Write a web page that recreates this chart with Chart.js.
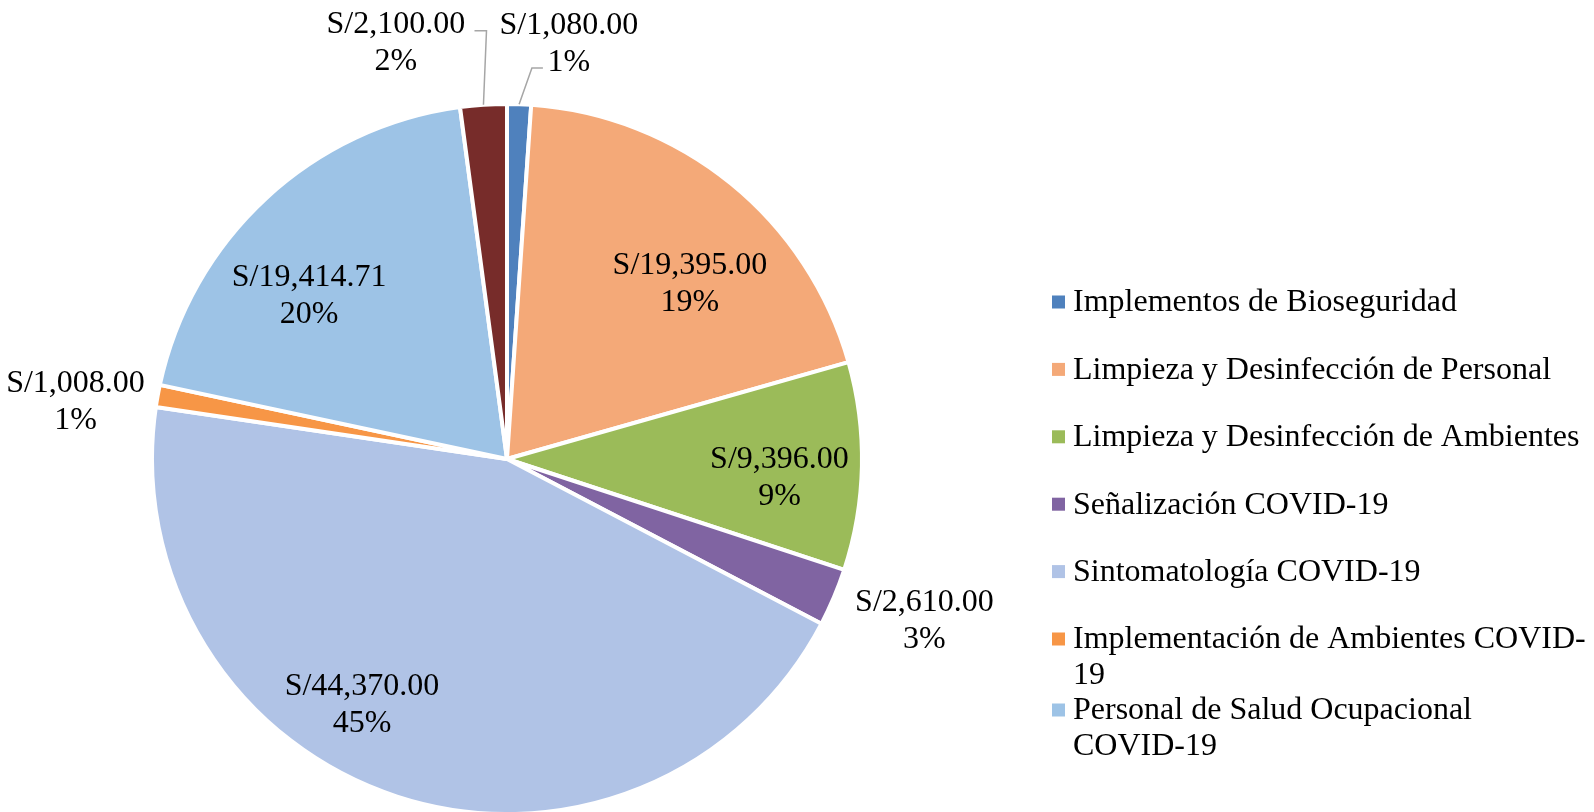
<!DOCTYPE html>
<html><head><meta charset="utf-8">
<script src="https://cdn.jsdelivr.net/npm/chart.js@4.4.1/dist/chart.umd.min.js"></script>
<style>html,body{margin:0;padding:0;background:#fff;overflow:hidden}</style>
</head><body>
<canvas id="c" width="1594" height="812"></canvas>
<script>
// ---- data ----
const categories = [
  'Implementos de Bioseguridad',
  'Limpieza y Desinfección de Personal',
  'Limpieza y Desinfección de Ambientes',
  'Señalización COVID-19',
  'Sintomatología COVID-19',
  'Implementación de Ambientes COVID-19',
  'Personal de Salud Ocupacional COVID-19',
  'Otros'
];
const amounts = [1080.00, 19395.00, 9396.00, 2610.00, 44370.00, 1008.00, 19414.71, 2100.00];
const percentLabels = ['1%', '19%', '9%', '3%', '45%', '1%', '20%', '2%'];
const legendCount = 7; // the reference legend shows only the first seven entries

// ---- style ----
const sliceColors = ['#4F81BD', '#F4A978', '#9BBB59', '#8064A2', '#B0C3E6', '#F79646', '#9DC3E6', '#772C2A'];
const FONT = '"Liberation Serif", "Times New Roman", serif';
const FONT_SIZE = 32;
const TEXT_DY = 2; // canvas 'middle' sits slightly above the cap centre
// [angle offset from slice middle (deg), distance as fraction of outer radius]
const labelPlacement = [[6.5, 1.186], [6.9, 0.717], [2.4, 0.769], [-2.0, 1.259], [12.7, 0.799], [-2.4, 1.227], [-7.4, 0.726], [-11.1, 1.218]];
// leader lines: end point relative to label centre, horizontal run towards pie
const leaders = {0: {dx: -26, dy: 25.5, run: -11}, 7: {dx: 78.7, dy: -10.5, run: 12}};
const legendStyle = {x: 1052, textX: 1073, y0: 301, spacing: 67.4, lineH: 35.5, box: 13, maxWidth: 516};

const fmt = v => 'S/' + v.toLocaleString('en-US', {minimumFractionDigits: 2, maximumFractionDigits: 2});

const labelPlugin = {
  id: 'sliceLabels',
  afterDatasetsDraw(chart) {
    const ctx = chart.ctx;
    const meta = chart.getDatasetMeta(0);
    ctx.save();
    ctx.font = FONT_SIZE + 'px ' + FONT;
    ctx.fillStyle = '#000';
    ctx.textAlign = 'center';
    ctx.textBaseline = 'middle';
    meta.data.forEach((arc, i) => {
      const p = arc.getProps(['x', 'y', 'startAngle', 'endAngle', 'outerRadius'], true);
      const mid = (p.startAngle + p.endAngle) / 2;
      const [off, f] = labelPlacement[i];
      const a = mid + off * Math.PI / 180;
      const cx = p.x + Math.cos(a) * p.outerRadius * f;
      const cy = p.y + Math.sin(a) * p.outerRadius * f;
      ctx.fillStyle = '#000';
      ctx.fillText(fmt(amounts[i]), cx, cy - 18.5 + TEXT_DY);
      ctx.fillText(percentLabels[i], cx, cy + 18.5 + TEXT_DY);
      const L = leaders[i];
      if (L) {
        const sx = p.x + Math.cos(mid) * p.outerRadius;
        const sy = p.y + Math.sin(mid) * p.outerRadius;
        const ex = cx + L.dx, ey = cy + L.dy;
        ctx.beginPath();
        ctx.strokeStyle = '#A6A6A6';
        ctx.lineWidth = 1.5;
        ctx.moveTo(sx, sy);
        ctx.lineTo(ex + L.run, ey);
        ctx.lineTo(ex, ey);
        ctx.stroke();
      }
    });
    ctx.restore();
  }
};

function wrap(ctx, text, maxW) {
  const tokens = text.match(/[^\s-]+-?|\s+/g);
  const lines = [];
  let cur = '';
  tokens.forEach(t => {
    const test = cur + t;
    if (cur.trim() && ctx.measureText(test.trimEnd()).width > maxW) {
      lines.push(cur.trimEnd());
      cur = t.trimStart();
    } else cur = test;
  });
  if (cur.trim()) lines.push(cur.trimEnd());
  return lines;
}

const legendPlugin = {
  id: 'sideLegend',
  afterDraw(chart) {
    const ctx = chart.ctx;
    const colors = chart.data.datasets[0].backgroundColor;
    ctx.save();
    ctx.font = FONT_SIZE + 'px ' + FONT;
    ctx.textAlign = 'left';
    ctx.textBaseline = 'middle';
    let y = legendStyle.y0;
    for (let i = 0; i < legendCount; i++) {
      const lines = wrap(ctx, chart.data.labels[i], legendStyle.maxWidth);
      ctx.fillStyle = colors[i];
      ctx.fillRect(legendStyle.x, y + 1 - legendStyle.box / 2, legendStyle.box, legendStyle.box);
      ctx.fillStyle = '#000';
      lines.forEach((ln, k) => ctx.fillText(ln, legendStyle.textX, y + k * legendStyle.lineH + TEXT_DY));
      const last = y + (lines.length - 1) * legendStyle.lineH;
      y = Math.max(y + legendStyle.spacing, last + legendStyle.lineH);
    }
    ctx.restore();
  }
};

new Chart(document.getElementById('c'), {
  type: 'pie',
  data: {
    labels: categories,
    datasets: [{
      data: amounts,
      backgroundColor: sliceColors,
      borderColor: '#FFFFFF',
      borderWidth: 4,
      hoverOffset: 0,
      offset: 0
    }]
  },
  options: {
    responsive: false,
    animation: false,
    radius: 355,
    layout: {padding: {left: 150, right: 730, top: 110, bottom: 4}},
    plugins: {legend: {display: false}, tooltip: {enabled: false}}
  },
  plugins: [labelPlugin, legendPlugin]
});
</script>
</body></html>
